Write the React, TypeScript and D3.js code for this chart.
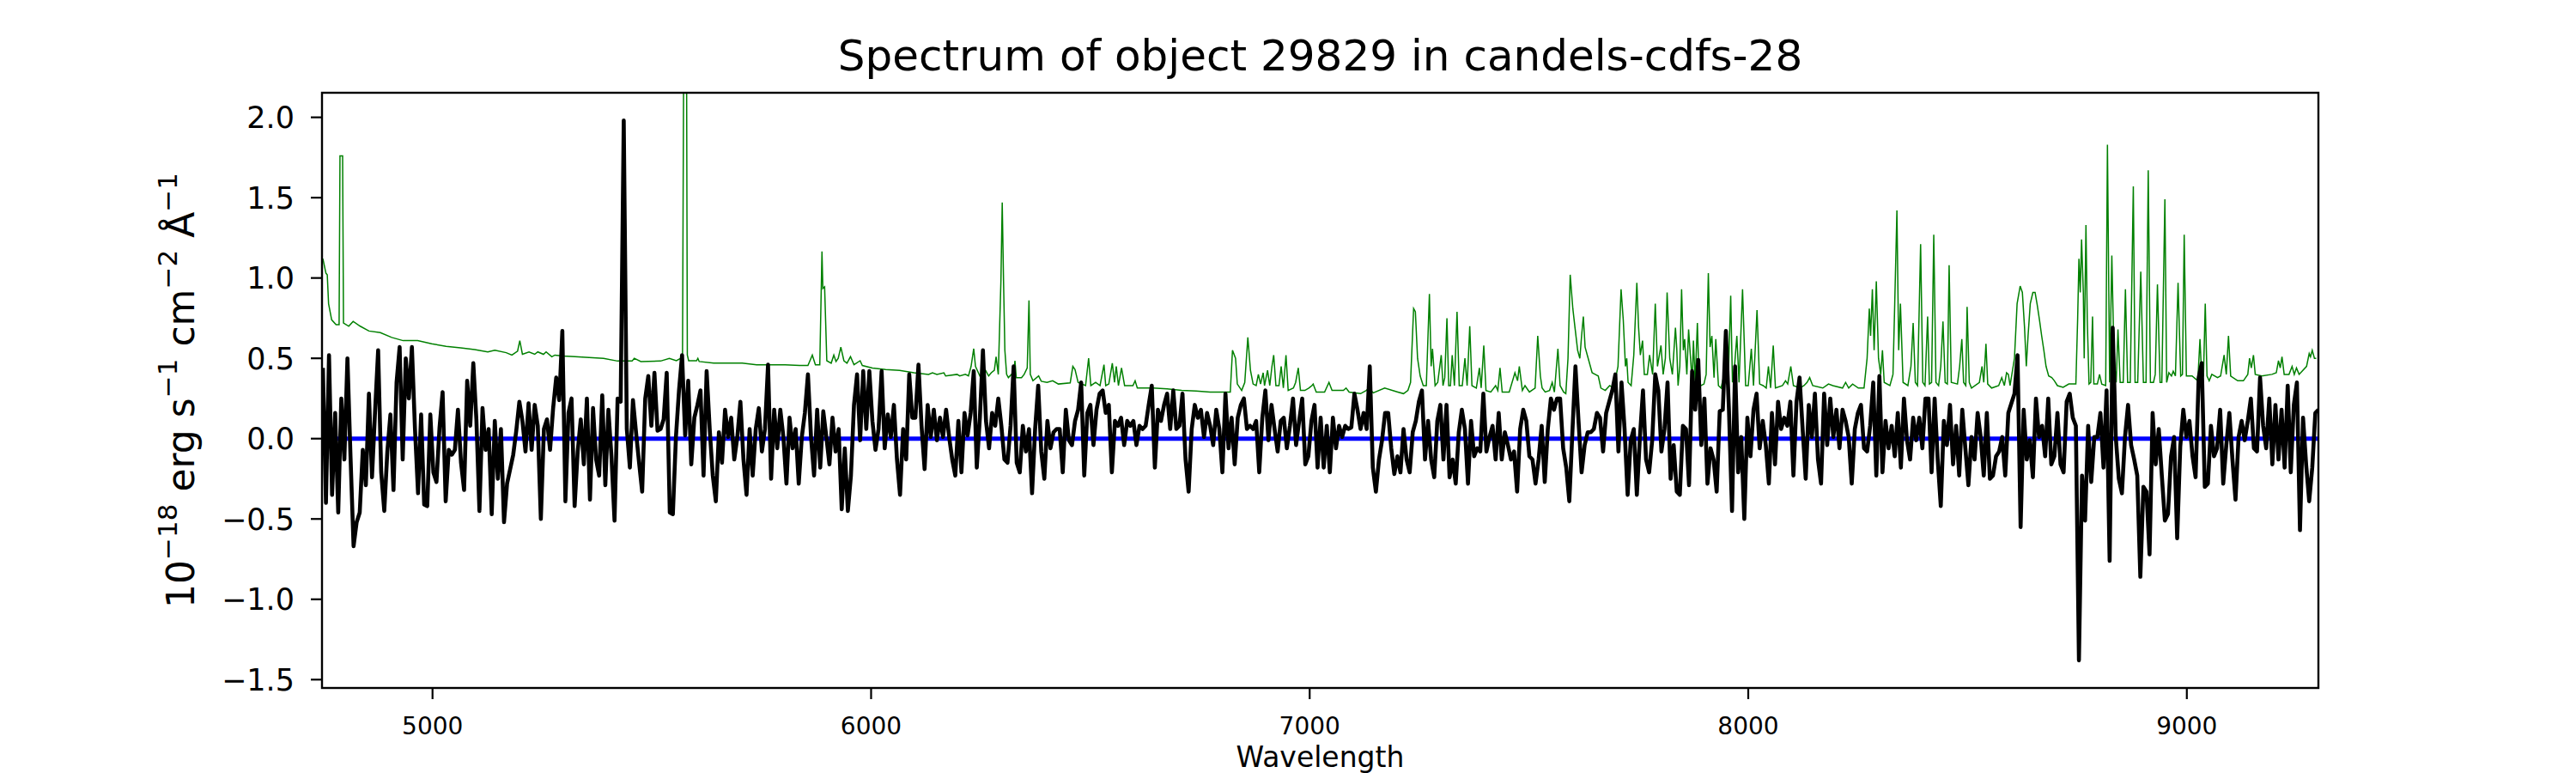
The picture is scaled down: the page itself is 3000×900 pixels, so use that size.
import * as d3 from "d3";

// flux on a regular 7 A grid starting at 4750 A (1e-18 erg/s/cm2/A)
const waveStart = 4750;
const waveStep = 7;
const fluxValues = [
  // 4750 - 5513
  0.44, -0.40, 0.52, -0.35, 0.16, -0.46, 0.25, -0.13, 0.50, -0.11,
  -0.67, -0.52, -0.46, -0.07, -0.29, 0.28, -0.24, 0.17, 0.55, -0.21,
  -0.45, -0.08, 0.15, -0.32, 0.35, 0.57, -0.13, 0.50, 0.25, 0.57,
  0.06, -0.34, 0.15, -0.41, -0.42, 0.15, -0.21, -0.27, 0.07, 0.29,
  -0.39, -0.07, -0.10, -0.07, 0.18, -0.15, -0.32, 0.36, 0.08, 0.47,
  0.12, -0.45, 0.19, -0.07, 0.06, -0.47, 0.11, -0.25, 0.06, -0.52,
  -0.28, -0.19, -0.10, 0.05, 0.23, 0.11, -0.08, 0.22, -0.07, 0.21,
  0.08, -0.50, 0.06, 0.12, -0.07, 0.19, 0.38, 0.24, 0.67, -0.39,
  0.16, 0.25, -0.42, -0.08, 0.12, -0.16, 0.25, -0.38, 0.19, -0.13,
  -0.23, 0.27, -0.29, 0.18, -0.11, -0.51, 0.25, 0.23, 1.98, 0.06,
  -0.18, 0.24, 0.04, -0.15, -0.33, 0.25, 0.39, 0.08, 0.41, 0.05,
  // 5520 - 6290
  0.06, 0.12, 0.41, -0.46, -0.47, 0.01, 0.30, 0.52, 0.02, 0.36,
  -0.16, 0.13, 0.21, 0.30, -0.23, 0.42, 0.06, -0.23, -0.39, 0.04,
  -0.15, 0.18, 0.01, 0.13, -0.13, 0.01, 0.23, -0.13, -0.35, 0.06,
  -0.23, 0.06, 0.19, -0.08, 0.06, 0.46, -0.25, 0.18, -0.06, 0.18,
  0.01, -0.28, 0.13, -0.06, 0.06, -0.28, 0.01, 0.16, 0.40, 0.01,
  -0.23, 0.18, -0.18, 0.17, 0.01, -0.16, 0.13, -0.08, 0.06, -0.44,
  -0.06, -0.45, -0.23, 0.21, 0.40, -0.01, 0.42, 0.06, 0.42, 0.11,
  -0.07, 0.06, 0.42, -0.06, 0.15, 0.01, 0.21, -0.13, -0.35, 0.06,
  -0.13, 0.40, 0.13, 0.13, 0.46, 0.08, -0.19, 0.21, 0.01, 0.18,
  -0.01, 0.13, 0.01, 0.18, 0.01, -0.13, -0.23, 0.11, -0.21, 0.16,
  0.02, 0.16, 0.42, -0.18, 0.13, 0.55, 0.11, -0.06, 0.16, 0.08,
  0.25,
  // 6297 - 7067
  0.08, -0.13, -0.15, 0.08, 0.45, -0.15, -0.21, 0.08, -0.08, 0.06,
  -0.34, 0.06, 0.33, -0.08, -0.25, 0.11, -0.06, 0.04, 0.06, 0.06,
  -0.21, 0.18, -0.01, -0.04, 0.11, 0.18, 0.35, -0.23, 0.16, 0.21,
  -0.04, 0.18, 0.28, 0.30, 0.16, 0.21, -0.21, 0.11, 0.08, 0.13,
  -0.04, 0.11, 0.08, 0.11, -0.04, 0.08, 0.06, 0.08, 0.21, 0.33,
  -0.18, 0.18, 0.11, 0.21, 0.28, 0.06, 0.30, 0.06, 0.08, 0.28,
  -0.13, -0.33, 0.06, 0.21, 0.13, 0.18, 0.01, 0.16, 0.08, -0.04,
  0.18, 0.06, -0.21, 0.28, -0.06, 0.13, -0.16, 0.13, 0.21, 0.25,
  0.06, 0.08, 0.06, 0.11, -0.21, 0.13, 0.30, -0.01, 0.21, 0.06,
  -0.08, 0.11, 0.13, -0.06, 0.08, 0.25, -0.04, 0.11, 0.25, -0.16,
  -0.11, 0.11, 0.21, -0.18, 0.13, -0.18, 0.08, -0.21, 0.13, -0.06,
  0.08,
  // 7074 - 7837
  0.01, 0.08, 0.06, 0.07, 0.28, 0.18, 0.06, 0.16, 0.06, 0.45,
  -0.18, -0.33, -0.13, -0.01, 0.16, 0.16, -0.06, -0.22, -0.11, -0.21,
  0.06, -0.13, -0.21, 0.04, 0.11, 0.23, 0.30, -0.13, 0.11, -0.13,
  -0.24, 0.11, 0.21, -0.13, 0.21, -0.24, -0.13, -0.28, 0.04, 0.18,
  0.06, -0.28, 0.11, -0.11, -0.06, -0.08, 0.28, -0.08, 0.01, 0.08,
  -0.13, 0.16, -0.13, 0.04, -0.04, -0.13, -0.08, -0.33, 0.06, 0.18,
  0.11, -0.11, -0.13, -0.28, -0.13, 0.08, -0.27, 0.06, 0.25, 0.18,
  0.25, 0.25, -0.06, -0.18, -0.39, 0.04, 0.45, 0.11, -0.21, -0.04,
  0.04, 0.04, 0.06, 0.16, 0.13, -0.08, 0.16, 0.23, 0.30, 0.40,
  -0.08, 0.35, 0.06, -0.35, -0.01, 0.06, -0.35, 0.01, 0.30, -0.13,
  -0.21, -0.01, 0.40, 0.30, -0.08, 0.06, 0.35, -0.25, -0.04, -0.33,
  // 7844 - 8607
  -0.35, 0.08, 0.06, -0.29, 0.42, 0.18, 0.49, -0.04, 0.25, -0.28,
  -0.06, -0.13, -0.33, 0.17, 0.18, 0.67, 0.18, -0.45, 0.45, -0.21,
  0.01, -0.50, 0.13, -0.11, 0.18, 0.28, -0.06, 0.11, -0.04, -0.28,
  0.16, -0.16, 0.23, 0.06, 0.13, 0.08, 0.23, -0.23, 0.23, 0.38,
  0.06, -0.25, 0.21, 0.01, 0.28, -0.13, -0.28, 0.28, -0.04, 0.25,
  0.01, 0.18, -0.06, 0.18, 0.11, 0.01, -0.28, 0.06, 0.16, 0.21,
  -0.06, -0.08, 0.08, 0.35, -0.23, 0.39, -0.21, 0.11, -0.06, 0.08,
  -0.11, 0.16, -0.18, 0.25, -0.01, -0.13, 0.13, -0.01, 0.13, -0.06,
  0.25, 0.25, -0.21, 0.25, -0.13, -0.42, 0.11, -0.04, 0.21, -0.16,
  0.08, -0.23, 0.18, -0.06, -0.29, 0.01, -0.13, 0.16, 0.01, -0.23,
  0.16, -0.25, -0.23, -0.11, -0.08, 0.01, -0.23, 0.16, 0.22, 0.28,
  // 8614 - 9300
  0.52, -0.55, 0.18, -0.13, -0.01, -0.24, 0.25, 0.01, 0.08, -0.11,
  0.25, -0.16, -0.11, 0.16, -0.16, -0.21, 0.23, 0.28, 0.13, 0.08,
  -1.38, -0.23, -0.51, 0.08, -0.27, 0.01, 0.01, 0.16, -0.18, 0.30,
  -0.76, 0.69, 0.01, -0.25, -0.34, 0.01, 0.21, -0.04, -0.13, -0.23,
  -0.86, -0.30, -0.33, -0.72, 0.16, -0.16, 0.06, -0.23, -0.51, -0.47,
  -0.11, 0.01, -0.62, -0.05, 0.18, 0.01, 0.11, -0.11, -0.24, 0.38,
  0.47, -0.30, -0.28, 0.08, -0.11, -0.06, 0.18, -0.28, -0.04, 0.16,
  -0.13, -0.38, 0.01, 0.11, -0.01, 0.11, 0.25, -0.06, -0.08, 0.38,
  0.08, -0.06, 0.25, -0.16, 0.21, -0.13, 0.18, -0.18, 0.33, -0.21,
  0.21, 0.35, -0.57, 0.13, -0.16, -0.39, -0.18, 0.16, 0.18,
];

// noise / sky spectrum (green), wavelength + value
const noiseWave = [
  4750, 4757, 4760, 4763, 4770, 4780, 4787, 4789, 4795, 4797, 4809, 4819, 4835, 4855, 4881, 4907, 4933, 4966, 4998, 5031,
  5064, 5096, 5126, 5142, 5168, 5181, 5194, 5199, 5205, 5220, 5233, 5240, 5253, 5259, 5272, 5279, 5298, 5325, 5357, 5390,
  5422, 5455, 5460, 5475, 5520, 5540, 5556, 5566, 5570, 5573, 5579, 5581, 5584, 5602, 5605, 5608, 5641, 5674, 5706, 5739,
  5772, 5804, 5837, 5856, 5866, 5873, 5883, 5888, 5890, 5894, 5899, 5909, 5915, 5920, 5925, 5931, 5938, 5945, 5953, 5961,
  5975, 5980, 6003, 6033, 6065, 6098, 6131, 6140, 6150, 6166, 6170, 6196, 6202, 6215, 6222, 6228, 6234, 6238, 6248, 6261,
  6268, 6274, 6281, 6285, 6290, 6296, 6299, 6302, 6305, 6309, 6313, 6320, 6324, 6328, 6331, 6343, 6349, 6356, 6360, 6363,
  6369, 6382, 6388, 6401, 6414, 6427, 6454, 6460, 6465, 6472, 6489, 6496, 6501, 6512, 6522, 6531, 6535, 6542, 6550, 6555,
  6559, 6564, 6571, 6578, 6597, 6602, 6607, 6643, 6675, 6708, 6741, 6773, 6819, 6824, 6831, 6835, 6845, 6852, 6859, 6865,
  6871, 6878, 6883, 6888, 6894, 6897, 6904, 6909, 6914, 6918, 6923, 6930, 6935, 6940, 6946, 6951, 6963, 6968, 6974, 6979,
  6989, 6998, 7005, 7008, 7015, 7034, 7044, 7051, 7067, 7077, 7083, 7090, 7116, 7129, 7135, 7145, 7171, 7201, 7214, 7224,
  7230, 7237, 7241, 7246, 7252, 7259, 7266, 7273, 7277, 7280, 7286, 7292, 7300, 7304, 7308, 7313, 7317, 7321, 7325, 7330,
  7336, 7341, 7348, 7354, 7359, 7365, 7370, 7380, 7387, 7391, 7397, 7402, 7413, 7424, 7429, 7434, 7439, 7455, 7468, 7474,
  7478, 7485, 7491, 7501, 7514, 7520, 7526, 7530, 7537, 7547, 7553, 7558, 7566, 7571, 7579, 7584, 7589, 7594, 7600, 7605,
  7611, 7616, 7620, 7624, 7628, 7633, 7638, 7644, 7651, 7658, 7664, 7674, 7684, 7693, 7703, 7710, 7715, 7720, 7723, 7726,
  7733, 7739, 7746, 7750, 7754, 7759, 7763, 7770, 7775, 7782, 7788, 7793, 7801, 7806, 7811, 7815, 7821, 7827, 7834, 7837,
  7840, 7844, 7848, 7852, 7855, 7860, 7864, 7868, 7872, 7875, 7879, 7884, 7888, 7892, 7899, 7904, 7909, 7913, 7917, 7922,
  7926, 7932, 7938, 7945, 7948, 7954, 7960, 7964, 7969, 7974, 7979, 7987, 7994, 8000, 8007, 8012, 8020, 8026, 8034, 8041,
  8046, 8051, 8057, 8062, 8078, 8085, 8090, 8097, 8103, 8118, 8127, 8134, 8140, 8147, 8170, 8183, 8193, 8215, 8222, 8229,
  8238, 8251, 8264, 8271, 8276, 8279, 8283, 8287, 8292, 8297, 8302, 8306, 8310, 8323, 8330, 8334, 8339, 8343, 8347, 8353,
  8364, 8371, 8376, 8381, 8386, 8393, 8398, 8403, 8409, 8413, 8418, 8423, 8428, 8434, 8439, 8444, 8449, 8454, 8458, 8463,
  8477, 8482, 8487, 8491, 8496, 8499, 8504, 8509, 8527, 8533, 8537, 8542, 8546, 8555, 8571, 8578, 8584, 8589, 8593, 8597,
  8604, 8607, 8613, 8620, 8625, 8630, 8634, 8638, 8643, 8649, 8654, 8659, 8664, 8669, 8674, 8679, 8685, 8692, 8698, 8705,
  8718, 8731, 8747, 8751, 8754, 8757, 8760, 8764, 8766, 8770, 8773, 8777, 8781, 8785, 8788, 8796, 8801, 8806, 8815, 8819,
  8824, 8829, 8834, 8839, 8843, 8848, 8855, 8860, 8865, 8871, 8878, 8882, 8888, 8895, 8901, 8907, 8912, 8917, 8924, 8928,
  8933, 8939, 8943, 8950, 8954, 8959, 8965, 8969, 8974, 8980, 8986, 8990, 8994, 8999, 9012, 9025, 9030, 9034, 9038, 9042,
  9046, 9051, 9057, 9070, 9077, 9085, 9090, 9095, 9100, 9116, 9129, 9139, 9143, 9147, 9152, 9156, 9171, 9194, 9204, 9209,
  9213, 9217, 9222, 9233, 9240, 9245, 9250, 9256, 9273, 9279, 9282, 9286, 9291, 9295,
];
const noiseFlux = [
  1.12, 1.03, 1.02, 0.84, 0.74, 0.71, 0.71, 1.76, 1.76, 0.72, 0.70, 0.73, 0.70, 0.67, 0.66, 0.63, 0.61, 0.61, 0.59, 0.575,
  0.565, 0.555, 0.54, 0.55, 0.535, 0.52, 0.545, 0.61, 0.525, 0.54, 0.525, 0.54, 0.525, 0.54, 0.51, 0.52, 0.515, 0.51, 0.505, 0.50,
  0.483, 0.483, 0.50, 0.48, 0.483, 0.50, 0.485, 0.50, 0.52, 2.6, 2.6, 0.52, 0.485, 0.485, 0.50, 0.48, 0.47, 0.47, 0.47, 0.46,
  0.46, 0.46, 0.455, 0.455, 0.52, 0.46, 0.46, 1.165, 0.935, 0.945, 0.485, 0.47, 0.52, 0.48, 0.50, 0.57, 0.485, 0.47, 0.51, 0.46,
  0.485, 0.455, 0.44, 0.43, 0.425, 0.41, 0.40, 0.41, 0.40, 0.41, 0.39, 0.40, 0.39, 0.40, 0.39, 0.45, 0.56, 0.45, 0.39, 0.425,
  0.39, 0.41, 0.425, 0.51, 0.40, 0.98, 1.47, 0.98, 0.55, 0.40, 0.38, 0.40, 0.38, 0.485, 0.38, 0.38, 0.40, 0.44, 0.86, 0.40,
  0.36, 0.39, 0.357, 0.35, 0.36, 0.34, 0.347, 0.45, 0.43, 0.35, 0.33, 0.50, 0.33, 0.35, 0.33, 0.46, 0.33, 0.34, 0.47, 0.35,
  0.45, 0.33, 0.44, 0.33, 0.33, 0.36, 0.315, 0.315, 0.31, 0.30, 0.296, 0.29, 0.29, 0.55, 0.50, 0.34, 0.30, 0.35, 0.63, 0.425,
  0.34, 0.33, 0.40, 0.34, 0.41, 0.33, 0.425, 0.33, 0.45, 0.52, 0.33, 0.33, 0.45, 0.315, 0.52, 0.30, 0.315, 0.35, 0.44, 0.30,
  0.30, 0.315, 0.33, 0.34, 0.29, 0.29, 0.35, 0.30, 0.30, 0.30, 0.315, 0.29, 0.28, 0.30, 0.315, 0.285, 0.315, 0.29, 0.28, 0.30,
  0.35, 0.81, 0.79, 0.50, 0.39, 0.33, 0.33, 0.90, 0.45, 0.56, 0.33, 0.35, 0.52, 0.33, 0.38, 0.75, 0.33, 0.33, 0.52, 0.33,
  0.79, 0.33, 0.33, 0.50, 0.33, 0.70, 0.33, 0.315, 0.44, 0.315, 0.58, 0.30, 0.29, 0.33, 0.30, 0.44, 0.29, 0.29, 0.41, 0.36,
  0.45, 0.30, 0.33, 0.29, 0.315, 0.64, 0.39, 0.315, 0.29, 0.30, 0.35, 0.29, 0.56, 0.33, 0.29, 0.28, 0.50, 1.02, 0.81, 0.69,
  0.55, 0.50, 0.64, 0.76, 0.57, 0.52, 0.47, 0.41, 0.40, 0.39, 0.315, 0.30, 0.33, 0.315, 0.45, 0.93, 0.74, 0.45, 0.50, 0.35,
  0.33, 0.52, 0.97, 0.69, 0.52, 0.61, 0.40, 0.40, 0.52, 0.40, 0.84, 0.45, 0.58, 0.40, 0.50, 0.91, 0.50, 0.40, 0.69, 0.56,
  0.33, 0.45, 0.93, 0.55, 0.62, 0.40, 0.68, 0.52, 0.35, 0.61, 0.35, 0.72, 0.35, 0.33, 0.34, 0.40, 1.03, 0.57, 0.64, 0.38,
  0.62, 0.33, 0.315, 0.40, 0.35, 0.33, 0.89, 0.35, 0.46, 0.64, 0.35, 0.93, 0.33, 0.33, 0.56, 0.33, 0.80, 0.34, 0.33, 0.315,
  0.45, 0.315, 0.58, 0.315, 0.33, 0.36, 0.34, 0.45, 0.33, 0.315, 0.33, 0.35, 0.38, 0.33, 0.315, 0.34, 0.33, 0.315, 0.35, 0.315,
  0.34, 0.315, 0.315, 0.50, 0.81, 0.64, 0.93, 0.55, 0.98, 0.50, 0.40, 0.55, 0.35, 0.33, 0.40, 0.84, 1.42, 0.55, 0.84, 0.35,
  0.33, 0.45, 0.72, 0.35, 0.33, 1.21, 0.35, 0.33, 0.76, 0.34, 0.35, 1.27, 0.35, 0.33, 0.45, 0.73, 0.35, 0.34, 1.08, 0.35,
  0.34, 0.45, 0.62, 0.35, 0.33, 0.82, 0.35, 0.315, 0.35, 0.45, 0.35, 0.59, 0.34, 0.315, 0.33, 0.38, 0.33, 0.41, 0.40, 0.33,
  0.45, 0.50, 0.84, 0.95, 0.91, 0.69, 0.45, 0.64, 0.84, 0.91, 0.91, 0.83, 0.74, 0.64, 0.55, 0.45, 0.39, 0.38, 0.36, 0.33,
  0.32, 0.34, 0.34, 0.74, 1.12, 0.91, 1.24, 0.91, 0.50, 1.33, 0.74, 0.34, 0.35, 0.76, 0.34, 0.34, 0.40, 0.34, 0.33, 1.83,
  0.35, 1.14, 0.50, 0.35, 0.68, 0.35, 0.35, 0.93, 0.35, 0.35, 1.57, 0.35, 0.35, 1.04, 0.35, 0.35, 1.67, 0.35, 0.35, 0.40,
  0.96, 0.35, 0.35, 1.49, 0.35, 0.41, 0.39, 0.42, 0.39, 0.97, 0.39, 0.40, 1.27, 0.39, 0.39, 0.36, 0.62, 0.38, 0.39, 0.84,
  0.39, 0.36, 0.40, 0.38, 0.39, 0.52, 0.40, 0.64, 0.39, 0.36, 0.36, 0.40, 0.50, 0.44, 0.52, 0.40, 0.39, 0.40, 0.41, 0.485,
  0.44, 0.51, 0.40, 0.40, 0.45, 0.40, 0.44, 0.40, 0.45, 0.53, 0.51, 0.55, 0.50, 0.50,
];

const xTicks = [5000, 6000, 7000, 8000, 9000];
const yTicks = [-1.5, -1.0, -0.5, 0.0, 0.5, 1.0, 1.5, 2.0];

const title = "Spectrum of object 29829 in candels-cdfs-28";
const xLabel = "Wavelength";

export default function App() {
  const width = 3000;
  const height = 900;
  const left = 375;
  const right = 2700;
  const top = 108;
  const bottom = 801;
  const font = "DejaVu Sans, Liberation Sans, sans-serif";

  const x = d3.scaleLinear().domain([4748, 9300]).range([left, right]);
  const y = d3.scaleLinear().domain([-1.552, 2.153]).range([bottom, top]);

  const flux = fluxValues.map((v, i) => ({ w: waveStart + i * waveStep, v }));
  const noise = noiseWave.map((w, i) => ({ w, v: noiseFlux[i] }));

  const line = d3
    .line<{ w: number; v: number }>()
    .x((d) => x(d.w))
    .y((d) => y(d.v));

  const fmt = (t: number) => t.toFixed(1).replace("-", "\u2212");
  const sup = { fontSize: 31 };

  return (
    <svg
      width={width}
      height={height}
      style={{ position: "absolute", left: 0, top: 0, background: "#fff" }}
      fontFamily={font}
    >
      <defs>
        <clipPath id="plot-area">
          <rect x={left} y={top} width={right - left} height={bottom - top} />
        </clipPath>
      </defs>
      <rect width={width} height={height} fill="#fff" />

      <g clipPath="url(#plot-area)">
        <path d={line(noise) ?? ""} fill="none" stroke="#008000" strokeWidth={1.5} />
        <line x1={x(4748)} x2={x(9300)} y1={y(0)} y2={y(0)} stroke="#0000ff" strokeWidth={5} />
        <path
          d={line(flux) ?? ""}
          fill="none"
          stroke="#000"
          strokeWidth={4.6}
          strokeLinejoin="round"
        />
      </g>

      <rect
        x={left}
        y={top}
        width={right - left}
        height={bottom - top}
        fill="none"
        stroke="#000"
        strokeWidth={2.4}
      />

      {xTicks.map((t) => (
        <g key={t}>
          <line x1={x(t)} x2={x(t)} y1={bottom} y2={bottom + 13} stroke="#000" strokeWidth={2.2} />
          <text x={x(t)} y={855} fontSize={28} textAnchor="middle">
            {t}
          </text>
        </g>
      ))}

      {yTicks.map((t) => (
        <g key={t}>
          <line x1={left - 13} x2={left} y1={y(t)} y2={y(t)} stroke="#000" strokeWidth={2.2} />
          <text x={343} y={y(t) + 12.5} fontSize={35} textAnchor="end">
            {fmt(t)}
          </text>
        </g>
      ))}

      <text x={(left + right) / 2} y={82} fontSize={50} textAnchor="middle">
        {title}
      </text>

      <text x={(left + right) / 2} y={893} fontSize={33} textAnchor="middle">
        {xLabel}
      </text>

      <text
        transform={`translate(226,${(top + bottom) / 2}) rotate(-90)`}
        fontSize={44}
        textAnchor="middle"
      >
        <tspan>10</tspan>
        <tspan dy={-20} style={sup}>
          {"\u221218"}
        </tspan>
        <tspan dy={20}> erg s</tspan>
        <tspan dy={-20} style={sup}>
          {"\u22121"}
        </tspan>
        <tspan dy={20}> cm</tspan>
        <tspan dy={-20} style={sup}>
          {"\u22122"}
        </tspan>
        <tspan dy={20}> Å</tspan>
        <tspan dy={-20} style={sup}>
          {"\u22121"}
        </tspan>
      </text>
    </svg>
  );
}
